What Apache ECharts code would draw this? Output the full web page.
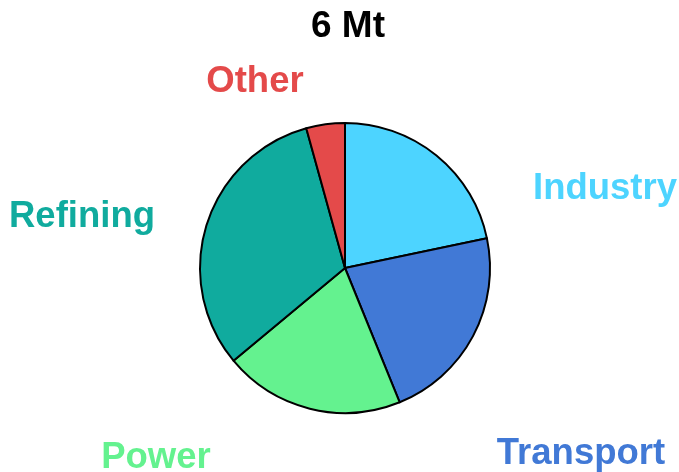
<!DOCTYPE html>
<html>
<head>
<meta charset="utf-8">
<script src="https://cdn.jsdelivr.net/npm/echarts@6/dist/echarts.min.js"></script>
<style>
  html, body { margin: 0; padding: 0; background: #fff; }
  #chart { width: 679px; height: 472px; }
</style>
</head>
<body>
<div id="chart"></div>
<script>
// Sectors and their shares of the 6 Mt total (percent)
const categories = ['Industry', 'Transport', 'Power', 'Refining', 'Other'];
const shares = [21.7, 22.1, 20.1, 31.7, 4.3];
const titleText = '6 Mt';

// Slice colours, in category order
const colors = ['#4dd4ff', '#4179d6', '#64f28f', '#10ab9e', '#e44a4a'];
// Label anchor points (px, centre of text), in category order
const labelPos = [[605, 189], [581, 454], [156, 458], [82, 217], [255, 82]];

const chart = echarts.init(document.getElementById('chart'), null, { renderer: 'canvas' });

chart.setOption({
  animation: false,
  backgroundColor: '#ffffff',
  title: {
    text: titleText,
    left: 343,
    top: 3,
    textAlign: 'center',
    textStyle: {
      fontFamily: 'Liberation Sans, Arial, sans-serif',
      fontWeight: 'bold',
      fontSize: 37,
      color: '#000000'
    }
  },
  series: [{
    type: 'pie',
    center: [345, 268],
    radius: 145,
    startAngle: 90,
    clockwise: true,
    data: categories.map((name, i) => ({
      name: name,
      value: shares[i],
      itemStyle: { color: colors[i] },
      label: { color: colors[i] }
    })),
    itemStyle: { borderColor: '#000000', borderWidth: 2 },
    label: {
      show: true,
      position: 'outside',
      formatter: '{b}',
      fontFamily: 'Liberation Sans, Arial, sans-serif',
      fontWeight: 'bold',
      fontSize: 36.5,
      overflow: 'none',
      width: 300
    },
    labelLine: { show: false },
    labelLayout: function (params) {
      const p = labelPos[params.dataIndex];
      return { x: p[0], y: p[1], align: 'center', verticalAlign: 'middle' };
    },
    emphasis: { disabled: true }
  }]
});
</script>
</body>
</html>
